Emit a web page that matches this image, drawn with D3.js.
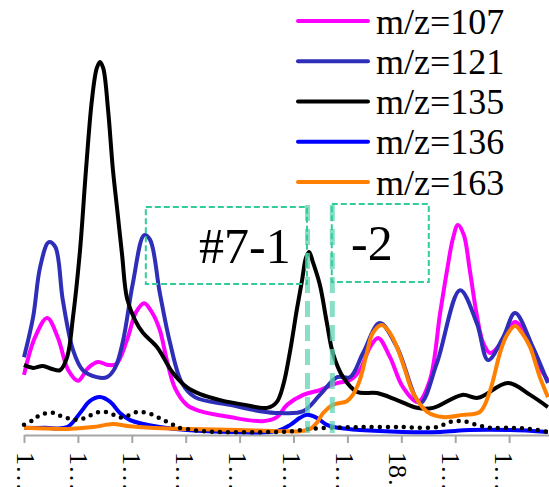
<!DOCTYPE html>
<html>
<head>
<meta charset="utf-8">
<script src="https://cdn.jsdelivr.net/npm/d3@7"></script>
<style>
  body { margin: 0; background: #fff; }
  svg { display: block; }
</style>
</head>
<body>
<div id="chart"></div>
<script>
// chromatogram traces, [time, intensity]
var mz107 = [[0,15.7],[0.20,25.7],[0.43,31.1],[0.63,25.7],[0.82,17.0],[1.00,14.1],[1.19,17.6],[1.37,19.2],[1.56,18.4],[1.71,18.6],[1.91,25.1],[2.08,32.7],[2.23,35.1],[2.37,32.7],[2.52,27.8],[2.65,19.7],[2.80,12.2],[3.02,7.6],[3.27,5.9],[3.82,4.3],[4.43,3.2],[4.69,4.3],[4.88,7.6],[5.18,10.3],[5.49,11.6],[5.81,13.5],[6.05,14.3],[6.23,17.0],[6.42,23.2],[6.57,25.7],[6.79,20.5],[7.03,12.4],[7.31,8.4],[7.53,14.3],[7.72,32.4],[7.85,44.1],[7.96,52.7],[8.05,56.2],[8.16,53.5],[8.27,44.1],[8.40,31.9],[8.52,24.3],[8.65,21.6],[8.89,25.1],[9.11,30.0],[9.33,25.9],[9.52,18.9],[9.72,14.3]];
var mz121 = [[0,20.5],[0.17,31.4],[0.30,44.9],[0.46,51.6],[0.58,50.3],[0.72,35.9],[0.91,22.4],[1.09,17.0],[1.35,15.1],[1.54,15.1],[1.69,17.6],[1.84,25.1],[2.02,40.5],[2.23,53.5],[2.34,52.2],[2.52,37.8],[2.71,24.3],[2.93,13.5],[3.17,9.7],[3.82,7.6],[4.38,5.9],[4.75,5.4],[5.18,5.9],[5.49,10.3],[5.81,15.1],[6.05,15.1],[6.29,21.6],[6.60,29.7],[6.92,23.2],[7.35,8.1],[7.66,18.9],[8.09,38.6],[8.40,29.7],[8.61,19.7],[8.89,25.9],[9.11,32.4],[9.44,23.2],[9.72,13.5]];
var mz135 = [[0,18.4],[0.17,17.6],[0.35,18.1],[0.52,17.3],[0.67,17.0],[0.80,20.5],[0.91,31.4],[1.04,49.5],[1.15,71.1],[1.26,90.0],[1.35,98.6],[1.41,100.3],[1.47,98.6],[1.56,87.3],[1.65,71.1],[1.73,60.3],[1.82,48.1],[1.91,36.5],[2.06,30.5],[2.21,27.0],[2.47,23.2],[2.75,16.5],[3.02,12.4],[3.27,10.5],[3.64,8.9],[4.10,7.6],[4.51,6.8],[4.69,8.4],[4.81,13.0],[4.94,22.4],[5.06,33.2],[5.16,41.4],[5.23,47.3],[5.29,48.9],[5.36,46.2],[5.49,40.0],[5.62,29.7],[5.73,21.6],[5.92,15.1],[6.18,11.1],[6.55,10.8],[6.92,8.9],[7.29,6.8],[7.59,6.8],[8.13,10.3],[8.42,9.5],[8.98,13.5],[9.39,10.3],[9.72,7.0]];
var mz136 = [[0,1.4],[0.39,1.4],[0.80,1.6],[1.04,5.4],[1.22,8.6],[1.41,9.7],[1.60,8.4],[1.78,5.4],[1.97,3.5],[2.52,1.6],[3.02,0.8],[3.88,0.3],[4.69,0.5],[4.94,2.2],[5.12,4.1],[5.25,4.9],[5.43,4.1],[5.62,2.2],[5.83,1.4],[6.23,0.8],[7.03,0.3],[7.72,0.3],[8.27,0.8],[9.02,0.8],[9.72,0.3]];
var mz163 = [[0,1.4],[0.80,1.1],[1.28,1.6],[1.65,2.4],[1.91,1.9],[2.34,1.4],[3.08,1.1],[4.01,0.8],[4.75,0.5],[5.12,0.5],[5.31,1.1],[5.43,2.7],[5.55,5.4],[5.73,7.6],[5.99,8.6],[6.10,10.3],[6.23,14.3],[6.36,21.6],[6.47,27.0],[6.64,29.2],[6.79,27.0],[6.92,23.2],[7.07,17.0],[7.22,10.8],[7.48,5.7],[7.77,4.3],[8.14,4.9],[8.46,5.7],[8.65,11.6],[8.83,21.6],[8.96,26.5],[9.11,28.9],[9.24,27.0],[9.39,23.2],[9.57,15.1],[9.72,9.7]];
var dotted = [[0,2.2],[0.17,3.5],[0.30,4.9],[0.45,5.4],[0.58,5.4],[0.72,4.3],[0.89,3.8],[1.00,3.5],[1.17,4.3],[1.32,5.4],[1.45,5.7],[1.60,5.4],[1.74,4.3],[1.87,4.3],[2.02,5.4],[2.15,5.7],[2.30,5.4],[2.47,4.3],[2.58,3.5],[2.71,2.7],[2.84,1.6],[3.14,0.8],[3.58,0.3],[4.69,0.3],[4.99,0.5],[5.27,1.1],[5.68,1.4],[6.23,1.6],[6.98,1.6],[7.66,1.6],[7.90,3.0],[8.14,3.2],[8.40,2.2],[8.65,1.4],[9.05,1.4],[9.39,1.1],[9.72,0.3]];

var seriesNames = ["m/z=107", "m/z=121", "m/z=135", "m/z=136", "m/z=163"];
var seriesColors = ["#ff00ff", "#2e2eb8", "#000000", "#0000ff", "#ff8000"];

var tickValues = [0, 1, 2, 3, 4, 5, 6, 7, 8, 9];
var tickLabels = ["1\u2026", "1\u2026", "1\u2026", "1\u2026", "1\u2026", "1\u2026", "1\u2026", "18\u2026", "1\u2026", "1\u2026"];

// marked fractions: split lines and the two labelled boxes
var splitTimes = [5.26, 5.72];
var boxes = [
  { label: "#7-1", t0: 2.26, t1: 5.25, v0: 40.3, v1: 61.1 },
  { label: "-2", t0: 5.71, t1: 7.51, v0: 40.8, v1: 61.9 }
];

var width = 549, height = 487;
var serif = "Liberation Serif";
var x = d3.scaleLinear().domain([0, 9.74]).range([24, 549]);
var y = d3.scaleLinear().domain([0, 100]).range([433, 63]);

var svg = d3.select("#chart").append("svg")
    .attr("width", width)
    .attr("height", height);

// x axis
var axis = svg.append("g")
    .attr("transform", "translate(0," + 435 + ")")
    .call(d3.axisBottom(x).tickValues(tickValues).tickFormat("").tickSize(8).tickSizeOuter(0));
axis.attr("font-family", serif);
axis.select(".domain").attr("stroke", "#a6a6a6").attr("stroke-width", 2);
axis.selectAll(".tick line").attr("stroke", "#a6a6a6").attr("stroke-width", 2);

// rotated, truncated category labels
svg.selectAll(".xlab")
    .data(tickLabels)
    .enter().append("text")
    .attr("class", "xlab")
    .attr("transform", function (d, i) { return "translate(" + x(i * 0.985 + 0.03) + ",452) rotate(90)"; })
    .attr("y", 8.5)
    .attr("font-family", serif)
    .attr("font-size", 26)
    .text(function (d) { return d; });

var line = d3.line()
    .curve(d3.curveCatmullRom.alpha(0.5))
    .x(function (d) { return x(d[0]); })
    .y(function (d) { return y(d[1]); });

var traces = [mz107, mz121, mz135, mz136, mz163];
traces.forEach(function (tr, i) {
    svg.append("path")
        .datum(tr)
        .attr("fill", "none")
        .attr("stroke", seriesColors[i])
        .attr("stroke-width", 4)
        .attr("stroke-linejoin", "round")
        .attr("d", line);
});

// dotted trace
svg.append("path")
    .datum(dotted)
    .attr("fill", "none")
    .attr("stroke", "#000")
    .attr("stroke-width", 4.5)
    .attr("stroke-linecap", "round")
    .attr("stroke-dasharray", "0,8")
    .attr("d", line);

// split lines
svg.selectAll(".split")
    .data(splitTimes)
    .enter().append("line")
    .attr("x1", function (d) { return x(d); })
    .attr("x2", function (d) { return x(d); })
    .attr("y1", y(61.6))
    .attr("y2", y(0))
    .attr("stroke", "#5fd4b4")
    .attr("stroke-opacity", 0.75)
    .attr("stroke-width", 5)
    .attr("stroke-dasharray", "16,8");

// fraction boxes
boxes.forEach(function (b) {
    svg.append("rect")
        .attr("x", x(b.t0))
        .attr("y", y(b.v1))
        .attr("width", x(b.t1) - x(b.t0))
        .attr("height", y(b.v0) - y(b.v1))
        .attr("fill", "none")
        .attr("stroke", "#33cc99")
        .attr("stroke-width", 2)
        .attr("stroke-dasharray", "6,3");
});
svg.append("text").attr("x", 199).attr("y", 263)
    .attr("font-family", serif).attr("font-size", 50).text(boxes[0].label);
svg.append("text").attr("x", 351).attr("y", 260)
    .attr("font-family", serif).attr("font-size", 50).text(boxes[1].label);

// legend
var legend = svg.append("g");
seriesNames.forEach(function (name, i) {
    var ly = 21 + i * 40.25;
    legend.append("line")
        .attr("x1", 298).attr("x2", 368)
        .attr("y1", ly).attr("y2", ly)
        .attr("stroke", seriesColors[i])
        .attr("stroke-width", 4)
        .attr("stroke-linecap", "round");
    legend.append("text")
        .attr("x", 376)
        .attr("y", ly + 12.5)
        .attr("font-family", serif)
        .attr("font-size", 36)
        .text(name);
});
</script>
</body>
</html>
